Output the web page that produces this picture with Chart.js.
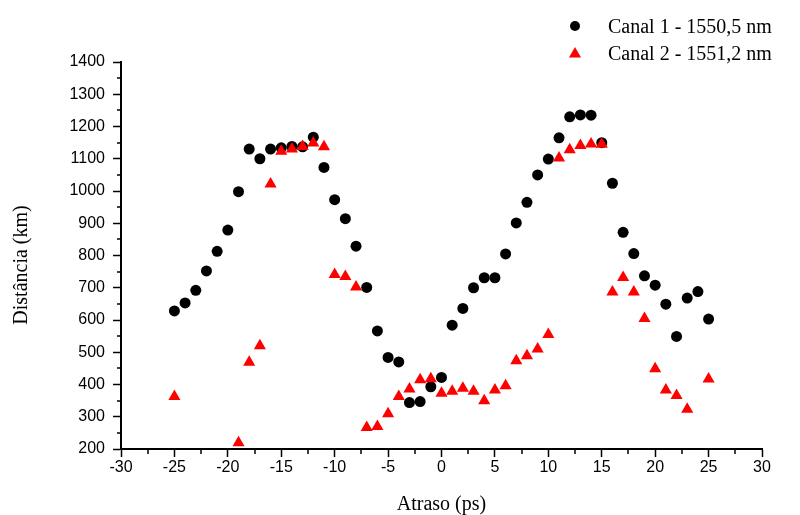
<!DOCTYPE html>
<html>
<head>
<meta charset="utf-8">
<script src="https://cdn.jsdelivr.net/npm/chart.js"></script>
<style>
  html, body { margin: 0; padding: 0; background: #fff; }
  canvas { display: block; }
</style>
</head>
<body>
<canvas id="atrasoChart" width="800" height="515"></canvas>
<script>
// Atraso (ps) of each measurement, channel 1
const canal1Atraso = [-25, -24, -23, -22, -21, -20, -19, -18, -17, -16, -15, -14, -13, -12, -11, -10, -9, -8, -7, -6, -5, -4, -3, -2, -1,
    0, 1, 2, 3, 4, 5, 6, 7, 8, 9, 10, 11, 12, 13, 14, 15, 16, 17, 18, 19, 20, 21, 22, 23, 24, 25];
const canal1Distancia = [628, 653, 692, 752, 813, 879, 998, 1130, 1100, 1130, 1134, 1138, 1137, 1167, 1073, 973, 914, 829, 701, 566, 484, 470, 344, 347, 393,
    422, 584, 636, 700, 731, 731, 805, 901, 965, 1050, 1099, 1165, 1230, 1236, 1235, 1150, 1024, 872, 806, 737, 708, 649, 549, 668, 688, 603];

// Channel 2
const canal2Atraso = [-25, -19, -18, -17, -16, -15, -14, -13, -12, -11, -10, -9, -8, -7, -6, -5, -4, -3, -2, -1,
    0, 1, 2, 3, 4, 5, 6, 7, 8, 9, 10, 11, 12, 13, 14, 15, 16, 17, 18, 19, 20, 21, 22, 23, 25];
const canal2Distancia = [363, 219, 469, 520, 1022, 1123, 1130, 1138, 1149, 1137, 741, 735, 702, 267, 270, 309, 363, 386, 415, 418,
    373, 379, 388, 379, 350, 383, 396, 474, 489, 510, 555, 1102, 1128, 1141, 1146, 1145, 687, 732, 687, 605, 449, 383, 366, 323, 417];

const seriesLabels = ['Canal 1 - 1550,5 nm', 'Canal 2 - 1551,2 nm'];
const xTicks = { min: -30, max: 30, step: 5 };
const yTicks = { min: 200, max: 1400, step: 100 };

const serif = "'Liberation Serif', 'Times New Roman', serif";
const sans = "'Liberation Sans', Arial, sans-serif";

function toPoints(xs, ys) {
    return xs.map((x, i) => ({ x: x, y: ys[i] }));
}

// half-step ticks between the labelled ones, plus the legend and y title
const extras = {
    id: 'extras',
    afterDraw(chart) {
        const ctx = chart.ctx;
        const xs = chart.scales.x;
        const ys = chart.scales.y;
        const area = chart.chartArea;

        ctx.save();
        ctx.strokeStyle = '#000';
        ctx.lineWidth = 1.5;
        ctx.beginPath();
        for (let v = xTicks.min + xTicks.step / 2; v < xTicks.max; v += xTicks.step) {
            const px = Math.round(xs.getPixelForValue(v));
            ctx.moveTo(px, area.bottom);
            ctx.lineTo(px, area.bottom + 5);
        }
        for (let v = yTicks.min + yTicks.step / 2; v < yTicks.max; v += yTicks.step) {
            const py = Math.round(ys.getPixelForValue(v));
            ctx.moveTo(area.left - 4, py);
            ctx.lineTo(area.left, py);
        }
        ctx.stroke();

        // y axis title
        ctx.translate(22, 265);
        ctx.rotate(-Math.PI / 2);
        ctx.font = '20px ' + serif;
        ctx.fillStyle = '#000';
        ctx.textAlign = 'center';
        ctx.textBaseline = 'middle';
        ctx.fillText('Distância (km)', 0, 0);
        ctx.restore();

        // legend
        ctx.save();
        ctx.fillStyle = '#000';
        ctx.beginPath();
        ctx.arc(575, 26, 5, 0, Math.PI * 2);
        ctx.fill();

        const r = 7, tx = 575, ty = 54;
        ctx.fillStyle = '#ff0000';
        ctx.beginPath();
        ctx.moveTo(tx, ty - r);
        ctx.lineTo(tx + r * Math.sin(2 * Math.PI / 3), ty + r / 2);
        ctx.lineTo(tx - r * Math.sin(2 * Math.PI / 3), ty + r / 2);
        ctx.closePath();
        ctx.fill();

        ctx.fillStyle = '#000';
        ctx.font = '20px ' + serif;
        ctx.textAlign = 'left';
        ctx.textBaseline = 'alphabetic';
        ctx.fillText(seriesLabels[0], 608, 33);
        ctx.fillText(seriesLabels[1], 608, 60);
        ctx.restore();
    }
};

new Chart(document.getElementById('atrasoChart'), {
    type: 'scatter',
    data: {
        datasets: [
            {
                label: seriesLabels[0],
                data: toPoints(canal1Atraso, canal1Distancia),
                pointStyle: 'circle',
                pointRadius: 5.5,
                pointBackgroundColor: '#000',
                pointBorderColor: '#000',
                pointBorderWidth: 0,
                order: 1
            },
            {
                label: seriesLabels[1],
                data: toPoints(canal2Atraso, canal2Distancia),
                pointStyle: 'triangle',
                pointRadius: 7,
                pointBackgroundColor: '#ff0000',
                pointBorderColor: '#ff0000',
                pointBorderWidth: 0,
                order: 0
            }
        ]
    },
    options: {
        responsive: false,
        animation: false,
        events: [],
        layout: { padding: { top: 62, right: 38, bottom: 0, left: 0 } },
        plugins: {
            legend: { display: false },
            tooltip: { enabled: false }
        },
        scales: {
            x: {
                type: 'linear',
                min: xTicks.min,
                max: xTicks.max,
                afterFit(scale) { scale.height = 66; },
                ticks: {
                    stepSize: xTicks.step,
                    color: '#000',
                    padding: 1,
                    maxRotation: 0,
                    font: { family: sans, size: 16 },
                    callback: v => String(v)
                },
                grid: {
                    drawOnChartArea: false,
                    tickLength: 8,
                    tickColor: '#000',
                    tickWidth: 1.5
                },
                border: { color: '#000', width: 2 },
                title: {
                    display: true,
                    text: 'Atraso (ps)',
                    color: '#000',
                    padding: 0,
                    font: { family: serif, size: 20, lineHeight: 1 }
                }
            },
            y: {
                type: 'linear',
                min: yTicks.min,
                max: yTicks.max,
                afterFit(scale) { scale.width = 121; },
                ticks: {
                    stepSize: yTicks.step,
                    color: '#000',
                    padding: 8,
                    font: { family: sans, size: 16 },
                    callback: v => String(v)
                },
                grid: {
                    drawOnChartArea: false,
                    tickLength: 8,
                    tickColor: '#000',
                    tickWidth: 1.5
                },
                border: { color: '#000', width: 2 }
            }
        }
    },
    plugins: [extras]
});
</script>
</body>
</html>
